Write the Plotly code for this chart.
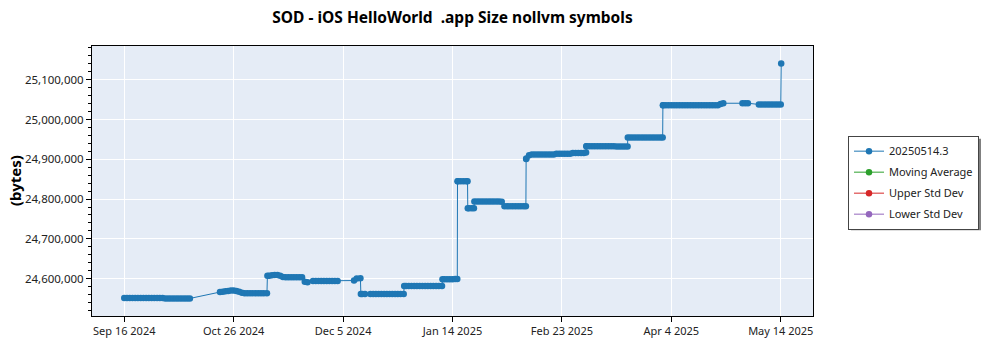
import plotly.graph_objects as go

# ---------------- data ----------------
build_dates = [
    # Sep 16 - Oct 10
    "2024-09-16", "2024-09-17", "2024-09-18", "2024-09-19", "2024-09-20", "2024-09-21", "2024-09-22",
    "2024-09-23", "2024-09-24", "2024-09-25", "2024-09-26", "2024-09-27", "2024-09-28", "2024-09-29",
    "2024-09-30", "2024-10-01", "2024-10-02", "2024-10-03", "2024-10-04", "2024-10-05", "2024-10-06",
    "2024-10-07", "2024-10-08", "2024-10-09", "2024-10-10",
    # Oct 21 - Nov 7
    "2024-10-21", "2024-10-22", "2024-10-23", "2024-10-24", "2024-10-25", "2024-10-26", "2024-10-27",
    "2024-10-28", "2024-10-29", "2024-10-30", "2024-10-31", "2024-11-01", "2024-11-02", "2024-11-03",
    "2024-11-04", "2024-11-05", "2024-11-06", "2024-11-07 04:00",
    # Nov 7 - Dec 11
    "2024-11-07 08:00", "2024-11-08", "2024-11-09", "2024-11-10", "2024-11-11", "2024-11-12", "2024-11-13",
    "2024-11-14", "2024-11-15", "2024-11-16", "2024-11-17", "2024-11-18", "2024-11-19", "2024-11-20",
    "2024-11-21", "2024-11-22",
    "2024-11-24", "2024-11-25", "2024-11-26", "2024-11-27", "2024-11-28", "2024-11-29", "2024-11-30",
    "2024-12-01", "2024-12-02", "2024-12-03",
    "2024-12-09", "2024-12-10", "2024-12-11 08:00",
    # Dec 11 - Dec 27
    "2024-12-11 12:00", "2024-12-12", "2024-12-13",
    "2024-12-15", "2024-12-16", "2024-12-17", "2024-12-18", "2024-12-19", "2024-12-20", "2024-12-21",
    "2024-12-22", "2024-12-23", "2024-12-24", "2024-12-25", "2024-12-26", "2024-12-27 04:00",
    # Dec 27 - Jan 10
    "2024-12-27 08:00", "2024-12-28", "2024-12-29", "2024-12-30", "2024-12-31", "2025-01-01", "2025-01-02",
    "2025-01-03", "2025-01-04", "2025-01-05", "2025-01-06", "2025-01-07", "2025-01-08", "2025-01-09",
    "2025-01-10 04:00",
    # Jan 10 - Jan 15
    "2025-01-10 08:00", "2025-01-11", "2025-01-12", "2025-01-13", "2025-01-14", "2025-01-15",
    "2025-01-15 18:00",
    # Jan 15 - Jan 19
    "2025-01-15 20:00", "2025-01-16", "2025-01-17", "2025-01-18", "2025-01-19", "2025-01-19 12:00",
    # Jan 19 - Jan 21
    "2025-01-19 14:00", "2025-01-20", "2025-01-21", "2025-01-21 20:00",
    # Jan 22 - Feb 1
    "2025-01-22", "2025-01-23", "2025-01-24", "2025-01-25", "2025-01-26", "2025-01-27", "2025-01-28",
    "2025-01-29", "2025-01-30", "2025-01-31", "2025-02-01",
    # Feb 2 - Feb 9
    "2025-02-02", "2025-02-03", "2025-02-04", "2025-02-05", "2025-02-06", "2025-02-07", "2025-02-08",
    "2025-02-09", "2025-02-09 20:00",
    # Feb 9 - Mar 3
    "2025-02-09 22:00", "2025-02-10", "2025-02-11",
    "2025-02-12", "2025-02-13", "2025-02-14", "2025-02-15", "2025-02-16", "2025-02-17", "2025-02-18",
    "2025-02-19", "2025-02-20", "2025-02-21", "2025-02-22", "2025-02-23", "2025-02-24", "2025-02-25",
    "2025-02-26", "2025-02-27", "2025-02-28", "2025-03-01", "2025-03-02", "2025-03-03", "2025-03-03 20:00",
    # Mar 3 - Mar 19
    "2025-03-03 22:00", "2025-03-04", "2025-03-05", "2025-03-06", "2025-03-07", "2025-03-08", "2025-03-09",
    "2025-03-10", "2025-03-11", "2025-03-12", "2025-03-13", "2025-03-14", "2025-03-15", "2025-03-16",
    "2025-03-17", "2025-03-18", "2025-03-19 00:00",
    # Mar 19 - Mar 31
    "2025-03-19 02:00", "2025-03-20", "2025-03-21", "2025-03-22", "2025-03-23", "2025-03-24", "2025-03-25",
    "2025-03-26", "2025-03-27", "2025-03-28", "2025-03-29", "2025-03-30", "2025-03-31", "2025-03-31 20:00",
    # Mar 31 - Apr 23
    "2025-03-31 22:00", "2025-04-01", "2025-04-02", "2025-04-03", "2025-04-04", "2025-04-05", "2025-04-06",
    "2025-04-07", "2025-04-08", "2025-04-09", "2025-04-10", "2025-04-11", "2025-04-12", "2025-04-13",
    "2025-04-14", "2025-04-15", "2025-04-16", "2025-04-17", "2025-04-18", "2025-04-19", "2025-04-20",
    "2025-04-21", "2025-04-22", "2025-04-23",
    # Apr 30 - May 2
    "2025-04-30", "2025-05-01", "2025-05-02",
    # May 6 - May 14
    "2025-05-06", "2025-05-07", "2025-05-08", "2025-05-09", "2025-05-10", "2025-05-11", "2025-05-12",
    "2025-05-13", "2025-05-14",
    "2025-05-14 04:00",
]

app_size_bytes = [
    # Sep 16 - Oct 10
    24551000, 24551000, 24551000, 24551000, 24551000, 24551000, 24551000,
    24551000, 24551000, 24551000, 24551000, 24551000, 24551000, 24551000,
    24551000, 24550000, 24550000, 24550000, 24550000, 24550000, 24550000,
    24550000, 24550000, 24550000, 24550000,
    # Oct 21 - Nov 7
    24566000, 24567000, 24568000, 24569000, 24570000, 24570000, 24569000,
    24567000, 24564000, 24563000, 24563000, 24563000, 24563000, 24563000,
    24563000, 24563000, 24563000, 24563000,
    # Nov 7 - Dec 11
    24607000, 24607000, 24608000, 24609000, 24609000, 24607000, 24604000,
    24603000, 24603000, 24603000, 24603000, 24603000, 24603000, 24603000,
    24592000, 24591000,
    24594000, 24594000, 24594000, 24594000, 24594000, 24594000, 24594000,
    24594000, 24594000, 24594000,
    24595000, 24600000, 24601000,
    # Dec 11 - Dec 27
    24561000, 24561000, 24561000,
    24561000, 24561000, 24561000, 24561000, 24561000, 24561000, 24561000,
    24561000, 24561000, 24561000, 24561000, 24561000, 24561000,
    # Dec 27 - Jan 10
    24581000, 24581000, 24581000, 24581000, 24581000, 24581000, 24581000,
    24581000, 24581000, 24581000, 24581000, 24581000, 24581000, 24581000,
    24581000,
    # Jan 10 - Jan 15
    24598000, 24598000, 24598000, 24598000, 24598000, 24599000,
    24599000,
    # Jan 15 - Jan 19
    24845000, 24845000, 24845000, 24845000, 24845000, 24845000,
    # Jan 19 - Jan 21
    24777000, 24777000, 24777000, 24777000,
    # Jan 22 - Feb 1
    24794000, 24794000, 24794000, 24794000, 24794000, 24794000, 24794000,
    24794000, 24794000, 24794000, 24793000,
    # Feb 2 - Feb 9
    24782000, 24782000, 24782000, 24782000, 24782000, 24782000, 24782000,
    24782000, 24782000,
    # Feb 9 - Mar 3
    24901000, 24902000, 24910000,
    24912000, 24912000, 24912000, 24912000, 24912000, 24912000, 24912000,
    24912000, 24912000, 24914000, 24914000, 24914000, 24914000, 24914000,
    24914000, 24916000, 24916000, 24916000, 24916000, 24916000, 24917000,
    # Mar 3 - Mar 19
    24933000, 24933000, 24933000, 24933000, 24933000, 24933000, 24933000,
    24933000, 24933000, 24933000, 24933000, 24933000, 24932000, 24932000,
    24932000, 24932000, 24932000,
    # Mar 19 - Mar 31
    24955000, 24955000, 24955000, 24955000, 24955000, 24955000, 24955000,
    24955000, 24955000, 24955000, 24955000, 24955000, 24955000, 24955000,
    # Mar 31 - Apr 23
    25036000, 25036000, 25036000, 25036000, 25036000, 25036000, 25036000,
    25036000, 25036000, 25036000, 25036000, 25036000, 25036000, 25036000,
    25036000, 25036000, 25036000, 25036000, 25036000, 25036000, 25036000,
    25036000, 25039000, 25041000,
    # Apr 30 - May 2
    25041000, 25041000, 25041000,
    # May 6 - May 14
    25038000, 25038000, 25038000, 25038000, 25038000, 25038000, 25038000,
    25038000, 25038000,
    25141000,
]

series_names = ["20250514.3", "Moving Average", "Upper Std Dev", "Lower Std Dev"]
series_colors = ["#1f77b4", "#2ca02c", "#d62728", "#9467bd"]

x_tick_dates = ["2024-09-16", "2024-10-26", "2024-12-05", "2025-01-14", "2025-02-23", "2025-04-04", "2025-05-14"]
x_tick_labels = ["Sep 16 2024", "Oct 26 2024", "Dec 5 2024", "Jan 14 2025", "Feb 23 2025", "Apr 4 2025", "May 14 2025"]
y_tick_values = [24600000, 24700000, 24800000, 24900000, 25000000, 25100000]
y_tick_labels = ["24,600,000", "24,700,000", "24,800,000", "24,900,000", "25,000,000", "25,100,000"]

chart_title = "SOD - iOS HelloWorld \u00a0.app Size nollvm symbols"
y_title = "(bytes)"

# ---------------- figure ----------------
FONT = "Noto Sans"
fig = go.Figure()

fig.add_trace(go.Scatter(
    x=build_dates, y=app_size_bytes, name=series_names[0], mode="lines+markers",
    legendgroup="g0",
    line=dict(color=series_colors[0], width=1),
    marker=dict(color=series_colors[0], size=6.5),
))
for i, (nm, col) in enumerate(zip(series_names[1:], series_colors[1:])):
    fig.add_trace(go.Scatter(
        x=[build_dates[0]], y=[None], name=nm, mode="lines+markers",
        legendgroup="g%d" % (i + 1),
        line=dict(color=col, width=1), marker=dict(color=col, size=6.5),
    ))

L, R, T, B = 92, 813, 46, 320
W, H = 1000, 350
pw, ph = R - L, B - T

def px_x(p):
    return (p - L) / pw

def px_y(p):
    return (B - p) / ph

fig.update_layout(
    width=W, height=H,
    margin=dict(l=L, r=W - R, t=T, b=H - B, pad=0),
    paper_bgcolor="white",
    plot_bgcolor="#E5ECF6",
    font=dict(family=FONT, size=11, color="#222"),
    title=dict(
        text=chart_title, x=0.5, xref="paper", xanchor="center",
        y=1 - 18 / H, yref="container", yanchor="middle",
        font=dict(family=FONT, size=15.5, color="black", weight="bold"),
    ),
    showlegend=True,
    legend=dict(
        x=px_x(848), y=px_y(137), xanchor="left", yanchor="top",
        bgcolor="white", bordercolor="#444", borderwidth=1,
        font=dict(family=FONT, size=11, color="#222"),
        tracegroupgap=2,
    ),
    xaxis=dict(
        type="date",
        range=["2024-09-04 05:00", "2025-05-25 19:00"],
        tickmode="array", tickvals=x_tick_dates, ticktext=x_tick_labels,
        showgrid=True, gridcolor="white", gridwidth=1,
        showline=True, linecolor="black", linewidth=1, mirror=True,
        ticks="outside", ticklen=5, tickcolor="black",
        zeroline=False,
        tickfont=dict(family=FONT, size=11, color="#222"),
    ),
    yaxis=dict(
        range=[24505800, 25185000],
        tickmode="array", tickvals=y_tick_values, ticktext=y_tick_labels,
        showgrid=True, gridcolor="white", gridwidth=1,
        showline=True, linecolor="black", linewidth=1, mirror=True,
        ticks="outside", ticklen=5, tickcolor="black",
        zeroline=False,
        tickfont=dict(family=FONT, size=11.5, color="#222"),
        minor=dict(tickmode="linear", tick0=24500000, dtick=20000,
                   ticks="outside", ticklen=3, tickcolor="black", showgrid=False),
    ),
    annotations=[dict(
        text=y_title, textangle=-90, x=px_x(15), y=0.5, xref="paper", yref="paper",
        xanchor="center", yanchor="middle", showarrow=False,
        font=dict(family=FONT, size=15, color="black", weight="bold"),
    )],
    shapes=[dict(
        type="rect", xref="paper", yref="paper", layer="below",
        x0=px_x(851), x1=px_x(981), y0=px_y(233), y1=px_y(140),
        fillcolor="#808080", line=dict(width=0),
    )],
)

fig.write_html("out.html")
